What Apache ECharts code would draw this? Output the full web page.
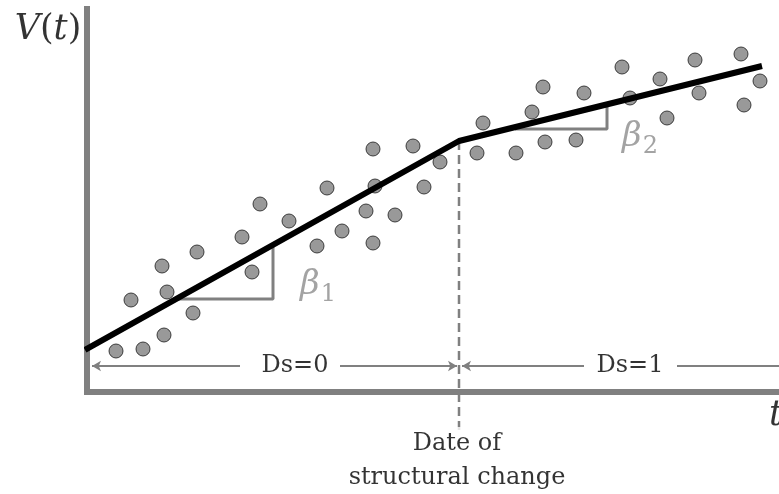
<!DOCTYPE html>
<html>
<head>
<meta charset="utf-8">
<script src="https://cdn.jsdelivr.net/npm/echarts@6/dist/echarts.min.js"></script>
<style>
  html, body { margin: 0; padding: 0; background: #fff; }
  #chart { width: 779px; height: 494px; }
</style>
</head>
<body>
<div id="chart"></div>
<script>
// one unit = 10px, t measured from the V axis, V from the t axis
const dotT = [2.9, 5.6, 7.7, 4.4, 10.6, 8.0, 7.5, 11.0, 16.5, 15.5, 17.3, 20.2, 23.0, 24.0, 25.5, 27.9, 28.6, 28.8, 28.6, 30.8, 32.6, 33.7, 35.3,
  39.6, 39.0, 42.9, 44.5, 45.6, 45.8, 48.9, 49.7, 53.5, 54.3, 57.3, 58.0, 60.8, 61.2, 65.4, 65.7, 67.3]
const dotV = [4.1, 4.3, 5.7, 9.2, 7.9, 10.0, 12.6, 14.0, 12.0, 15.5, 18.8, 17.1, 14.6, 20.4, 16.1, 18.1, 24.3, 20.6, 14.9, 17.7, 24.6, 20.5, 23.0,
  26.9, 23.9, 23.9, 28.0, 30.5, 25.0, 25.2, 29.9, 32.5, 29.4, 31.3, 27.4, 33.2, 29.9, 33.8, 28.7, 31.1]

// fitted trend with a break
const fitT = [-0.2, 37.2, 67.5]
const fitV = [4.2, 25.1, 32.6]
const breakT = 37.2

// slope brackets
const beta1T = [9.0, 18.6, 18.6]
const beta1V = [9.3, 9.3, 14.7]
const beta2T = [42.8, 52.0, 52.0]
const beta2V = [26.3, 26.3, 28.8]

const arrowV = 2.6
const tMax = 69.2
const vMax = 38.3

const toPairs = (a, b) => a.map((x, i) => [x, b[i]])

const gray = '#808080'
const serif = 'DejaVu Serif'

const notes = [
  { name: 'Ds=0', value: [20.8, arrowV] },
  { name: 'Ds=1', value: [54.3, arrowV] },
  { name: 'Date of\nstructural change', value: [37.0, -6.9] }
]

let options = {
  animation: false,
  grid: { left: 87, right: 0, top: 9, bottom: 102 },
  xAxis: {
    type: 'value',
    min: 0,
    max: tMax,
    axisLine: { show: true, lineStyle: { color: gray, width: 6, cap: 'square' } },
    axisTick: { show: false },
    axisLabel: { show: false },
    splitLine: { show: false }
  },
  yAxis: {
    type: 'value',
    min: 0,
    max: vMax,
    axisLine: { show: true, lineStyle: { color: gray, width: 6, cap: 'square' } },
    axisTick: { show: false },
    axisLabel: { show: false },
    splitLine: { show: false }
  },
  series: [
    {
      // arrows for the two regimes
      type: 'line',
      data: [],
      markLine: {
        silent: true,
        animation: false,
        symbol: ['none', 'none'],
        symbolSize: [8, 9],
        label: { show: false },
        lineStyle: { color: gray, width: 2, type: 'solid' },
        data: [
          [{ coord: [0.5, arrowV], symbol: 'arrow' }, { coord: [15.3, arrowV] }],
          [{ coord: [25.3, arrowV] }, { coord: [37.0, arrowV], symbol: 'arrow' }],
          [{ coord: [37.5, arrowV], symbol: 'arrow' }, { coord: [49.7, arrowV] }],
          [{ coord: [59.0, arrowV] }, { coord: [tMax, arrowV] }]
        ]
      }
    },
    {
      type: 'line',
      clip: false,
      symbol: 'none',
      data: [[breakT, fitV[1]], [breakT, -3.8]],
      lineStyle: { color: gray, width: 2.5, type: [9, 5] }
    },
    {
      type: 'line',
      symbol: 'none',
      data: toPairs(beta1T, beta1V),
      lineStyle: { color: gray, width: 3 }
    },
    {
      type: 'line',
      symbol: 'none',
      data: toPairs(beta2T, beta2V),
      lineStyle: { color: gray, width: 3 }
    },
    {
      type: 'scatter',
      data: toPairs(dotT, dotV),
      symbolSize: 14,
      itemStyle: { color: '#7f7f7f', borderColor: '#1a1a1a', borderWidth: 1 },
      z: 3
    },
    {
      type: 'line',
      symbol: 'none',
      clip: false,
      data: toPairs(fitT, fitV),
      lineStyle: { color: '#000', width: 6 },
      z: 4
    },
    {
      // text notes
      type: 'scatter',
      clip: false,
      symbolSize: 0,
      silent: true,
      data: notes,
      label: {
        show: true,
        position: 'inside',
        formatter: '{b}',
        fontFamily: serif,
        fontSize: 24,
        lineHeight: 34,
        color: '#000',
        backgroundColor: '#fff',
        padding: [0, 8]
      },
      z: 5
    },
    {
      type: 'scatter',
      clip: false,
      symbolSize: 0,
      silent: true,
      data: [
        { name: 'V', value: [-3.9, 36.2] },
        { name: 't', value: [68.9, -2.4] },
        { name: 'b1', value: [23.1, 10.7] },
        { name: 'b2', value: [55.3, 25.5] }
      ],
      label: {
        show: true,
        position: 'inside',
        formatter: p => {
          if (p.name === 'V') return '{i|V}{n|(}{i|t}{n|)}'
          if (p.name === 't') return '{i|t}'
          if (p.name === 'b1') return '{g|β}{s|1}'
          return '{g|β}{s|2}'
        },
        rich: {
          i: { fontFamily: serif, fontStyle: 'italic', fontSize: 35, color: '#000' },
          n: { fontFamily: serif, fontSize: 35, color: '#000' },
          g: { fontFamily: serif, fontStyle: 'italic', fontSize: 34, color: '#8c8c8c' },
          s: { fontFamily: serif, fontSize: 24, color: '#8c8c8c', padding: [20, 0, 0, 1] }
        }
      },
      z: 5
    }
  ]
}

const myChart = echarts.init(document.getElementById('chart'))
myChart.setOption(options)
</script>
</body>
</html>
